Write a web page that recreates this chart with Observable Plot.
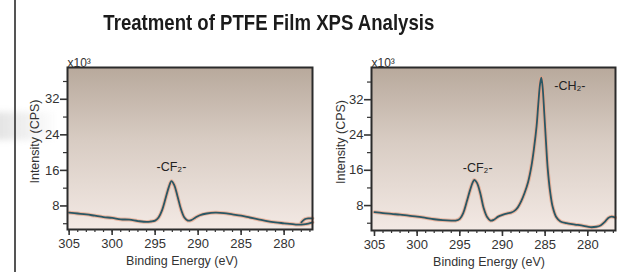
<!DOCTYPE html>
<html><head><meta charset="utf-8">
<script src="https://cdn.jsdelivr.net/npm/d3@7"></script>
<script src="https://cdn.jsdelivr.net/npm/@observablehq/plot@0.6"></script>
<style>
body{margin:0;background:#fff;}
#page{position:relative;width:620px;height:275px;overflow:hidden;font-family:"Liberation Sans",Arial,sans-serif;background:#fff;}
#title{position:absolute;left:0;width:538px;top:10px;line-height:25px;text-align:center;font-weight:bold;font-size:22px;color:#1b1b1b;white-space:nowrap;}
#title span{display:inline-block;transform:scaleX(0.845);}
#vline{position:absolute;left:14px;top:0;width:1.5px;height:272px;background:#555;}
#shade{position:absolute;left:-6px;top:112px;width:64px;height:28px;background:linear-gradient(to right,#e2e2e2,rgba(240,240,240,0.6) 70%,rgba(255,255,255,0));filter:blur(3px);}
.panel{position:absolute;top:50px;}
</style>
</head><body>
<div id="page">
  <div id="shade"></div>
  <div id="vline"></div>
  <div id="title"><span>Treatment of PTFE Film XPS Analysis</span></div>
  <div id="left" class="panel" style="left:0px"></div>
  <div id="right" class="panel" style="left:300px"></div>
</div>
<script>
// ---- Data (binding energy in eV, intensity in thousands of CPS) ----
const leftEnergy = [305,304,303,302,301,300,299,298,297,296,295.5,295,294.6,294.2,293.8,293.4,293.1,292.8,292.4,292.0,291.6,291.2,290.8,290.3,289.8,289,288,287,286,285,284,283,282,281,280,279,278.5,278,277.5,276.7];
const leftCounts = [6.5,6.3,6.1,5.8,5.5,5.3,5.0,4.9,4.6,4.4,4.5,4.7,5.4,7.0,9.6,12.3,13.6,12.8,10.2,7.3,5.4,4.7,4.8,5.4,5.9,6.3,6.5,6.4,6.1,5.8,5.4,5.0,4.6,4.3,4.1,3.9,3.8,3.8,3.9,4.3];
const leftTailEnergy = [278.0,277.6,277.2,276.7];
const leftTailCounts = [4.3,5.0,5.2,5.2];

const rightEnergy = [305,304,303,302,301,300,299,298,297,296,295.5,295,294.6,294.2,293.8,293.5,293.3,293.0,292.6,292.2,291.8,291.4,291.0,290.5,290,289.5,289,288.6,288.2,287.8,287.4,287.0,286.6,286.3,286.0,285.8,285.6,285.45,285.3,285.1,284.9,284.7,284.4,284.1,283.7,283.2,282.5,281.5,280.5,279.7,279,278.5,278.0,277.6,277.2,276.8];
const rightCounts = [6.5,6.3,6.1,5.95,5.7,5.5,5.2,4.9,4.7,4.6,4.6,5.0,6.3,8.8,11.5,13.2,13.8,13.2,10.8,7.4,5.4,4.6,4.8,5.5,5.9,6.2,6.4,6.8,7.6,9.0,10.9,13.3,17.0,21.0,26.0,31.0,35.5,37.0,35.0,29.0,22.5,16.5,11.0,7.6,5.4,4.4,4.0,3.7,3.4,3.1,3.2,3.5,4.3,5.2,5.5,5.3];

const xMajorTicks = [305,300,295,290,285,280];
const xMinorTicks = d3.range(277, 306);
const yMajorTicks = [8,16,24,32];
const yMinorTicks = [4,12,20,28,36];

const leftLabels = [{e: 293.1, c: 16.7, t: "-CF₂-"}];
const rightLabels = [{e: 292.9, c: 16.5, t: "-CF₂-"}, {e: 282.1, c: 35.2, t: "-CH₂-"}];

function panel(el, opts) {
  const data = opts.energy.map((e, i) => ({e, c: opts.counts[i], s: "a"}));
  if (opts.tailE) opts.tailE.forEach((e, i) => data.push({e, c: opts.tailC[i], s: "b"}));
  const svg = Plot.plot({
    width: 320, height: 225,
    marginLeft: opts.ml, marginRight: opts.mr, marginTop: 17, marginBottom: opts.mb,
    x: {domain: opts.xDomain},
    y: {domain: opts.yDomain},
    style: {fontFamily: '"Liberation Sans", Arial, sans-serif', fontSize: "13px", color: "#333", background: "transparent", overflow: "visible"},
    marks: [
      Plot.frame({fill: `url(#${opts.gid})`, stroke: "none"}),
      Plot.line(data, {x: "e", y: "c", z: "s", stroke: "#e7a184", strokeWidth: 3.8, strokeOpacity: 0.7, curve: "catmull-rom"}),
      Plot.line(data, {x: "e", y: "c", z: "s", stroke: "#2a5764", strokeWidth: 1.8, curve: "catmull-rom"}),
      Plot.frame({stroke: "#2b2b2b", strokeWidth: 2}),
      Plot.axisX({ticks: xMajorTicks, tickSize: 6, tickPadding: 3, strokeWidth: 1.6, label: null}),
      Plot.axisX({ticks: xMinorTicks, tickSize: 3, tickFormat: () => "", strokeWidth: 1.2, label: null}),
      Plot.axisY({ticks: yMajorTicks, tickSize: 7, tickPadding: 1, strokeWidth: 1.6, label: null}),
      Plot.axisY({ticks: yMinorTicks, tickSize: 4, tickFormat: () => "", strokeWidth: 1.2, label: null}),
      Plot.text(opts.labels, {x: "e", y: "c", text: "t", fontSize: 12.5, fill: "#222"}),
      Plot.text(["x10³"], {frameAnchor: "top-left", textAnchor: "start", lineAnchor: "bottom", dy: -1, fontSize: 12, fill: "#333"}),
      Plot.text(["Binding Energy (eV)"], {frameAnchor: "bottom", textAnchor: "middle", lineAnchor: "middle", dx: opts.xtDx, dy: 31, fontSize: 12.5, fill: "#333"}),
      Plot.text(["Intensity (CPS)"], {frameAnchor: "left", textAnchor: "middle", lineAnchor: "middle", rotate: -90, dx: opts.ytDx, dy: -7, fontSize: 12.5, fill: "#333"})
    ]
  });
  d3.select(svg).insert("defs", ":first-child").html(
    `<linearGradient id="${opts.gid}" x1="0" y1="0" x2="0" y2="1">
       <stop offset="0" stop-color="#b8a99c"/>
       <stop offset="0.45" stop-color="#d8ccc3"/>
       <stop offset="1" stop-color="#f3e9e4"/>
     </linearGradient>`);
  document.getElementById(el).appendChild(svg);
}

panel("left", {energy: leftEnergy, counts: leftCounts, tailE: leftTailEnergy, tailC: leftTailCounts,
  labels: leftLabels, xDomain: [305.19, 276.7], yDomain: [2.7, 39.15], ml: 67, mr: 8, mb: 46, gid: "bgL", ytDx: -33, xtDx: -8});
panel("right", {energy: rightEnergy, counts: rightCounts,
  labels: rightLabels, xDomain: [305.35, 276.75], yDomain: [2.35, 39.3], ml: 71, mr: 5, mb: 45, gid: "bgR", ytDx: -31, xtDx: -4.5});
</script>
</body></html>
